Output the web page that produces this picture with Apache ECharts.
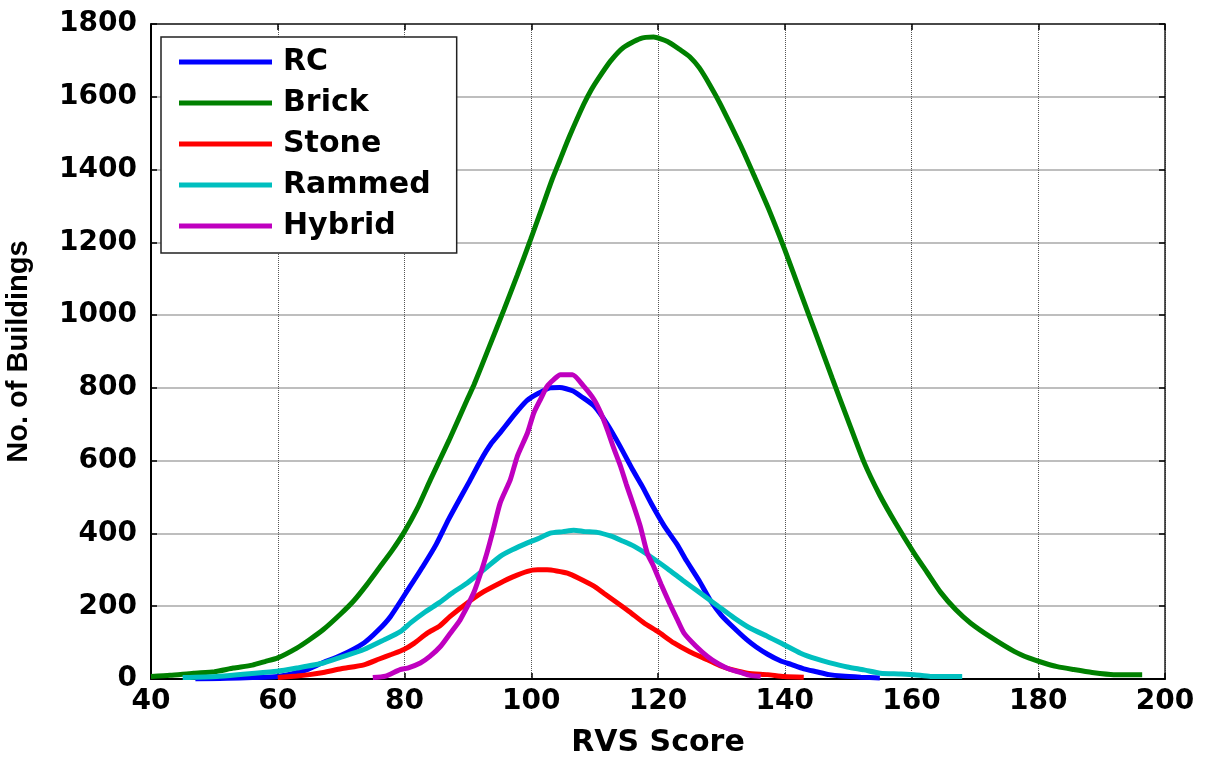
<!DOCTYPE html>
<html>
<head>
<meta charset="utf-8">
<script src="https://cdn.jsdelivr.net/npm/echarts@6/dist/echarts.min.js"></script>
<style>
  html, body { margin: 0; padding: 0; background: #fff; }
  #main { width: 1209px; height: 765px; }
</style>
</head>
<body>
<div id="main"></div>
<script>
// series names (legend order)
var seriesNames = ['RC', 'Brick', 'Stone', 'Rammed', 'Hybrid'];
var seriesColors = ['#0000ff', '#008000', '#ff0000', '#00bfbf', '#bf00bf'];

// [RVS score, no. of buildings]
var rcData = [[47,0],[52,2],[56,4],[60,7],[64,22],[67,44],[70,65],[73.6,99],[75.8,133],[77.8,172],[80.9,255],[83,312],
  [85,370],[87,440],[90.4,548],[92,600],[93.6,645],[95.1,677],[96.5,708],[98,740],[99.3,765],[101,784],[103,800],
  [104.5,801],[106.5,792],[108,775],[110,749],[112,700],[114,640],[116,575],[117.5,530],[119,480],[121,420],[123,370],
  [124.5,325],[126.5,270],[128.3,215],[130,175],[132,140],[134,108],[135.5,88],[137.3,68],[139.3,50],[141,40],
  [143,28],[145,20],[147,12],[149,8],[152,5],[155,3]];

var brickData = [[40,7],[43,10],[46.7,16],[50,20],[53,30],[56,38],[58,48],[60,58],[63,85],[65,108],[67.2,136],
  [70,180],[72,215],[74,258],[76,305],[78,352],[80,405],[82,468],[84.1,548],[87,655],[89.9,768],[91,810],[93.3,910],
  [95.7,1015],[97.8,1110],[99.9,1208],[101.6,1290],[103.3,1373],[104.5,1425],[106,1490],[108.3,1580],[109.5,1620],
  [110.5,1648],[112.5,1698],[114.5,1735],[117.2,1760],[119.3,1764],[121.5,1752],[123.6,1728],[125,1710],[126.5,1680],
  [128.2,1632],[129.9,1578],[133.1,1464],[135.2,1382],[137.5,1290],[140,1180],[142.5,1062],[145,944],[147.5,826],
  [150,710],[152.5,596],[155,505],[157.5,428],[160.4,346],[162.5,292],[164.6,238],[167,190],[169.3,154],[172.5,115],
  [176.2,76],[178.5,58],[180.9,44],[183,34],[185.6,26],[188.5,18],[191.9,12],[196.4,12]];

var stoneData = [[60,4],[63,8],[65,12],[67.2,18],[70,28],[73.6,39],[76,55],[78,68],[79.9,81],[81.5,98],[83.6,126],
  [85.5,145],[87.2,172],[89.9,209],[92.5,240],[95.1,264],[97,280],[99.4,296],[101,300],[102.5,300],[104,297],
  [105.7,291],[107.5,277],[109.9,255],[111.5,235],[113.6,209],[115.5,185],[117.8,154],[120,130],[122.5,99],
  [125,75],[127.8,53],[130,35],[132,24],[134.1,16],[137.3,12],[139.9,7],[143,5]];

var rammedData = [[45,4],[50.4,7],[55,14],[59.9,21],[63,30],[67.2,44],[70,60],[73.6,81],[76.5,105],[79.4,131],
  [81,155],[83.3,185],[85.5,210],[87.5,236],[89.9,264],[92.5,300],[95.1,337],[97,355],[99.4,374],[101,385],
  [103,401],[105,405],[106.7,409],[108.5,405],[110.4,403],[112.5,393],[114.3,380],[116.2,365],[118.5,340],
  [121.5,303],[124,270],[126.7,236],[129.5,200],[132,168],[134.5,140],[137.3,117],[139.8,95],[142.5,71],
  [145,55],[147,45],[149.9,33],[152.5,25],[155.1,16],[158,14],[160.4,12],[163,7],[168,7]];

var hybridData = [[75,4],[77,8],[79.3,26],[80.5,30],[82.5,44],[84,62],[85.7,90],[87.2,125],[88.8,163],[90.9,236],
  [92,290],[93,346],[94,410],[95.1,484],[96.7,548],[97.8,612],[99.4,676],[100.4,731],[101.5,770],[102.5,804],
  [103.5,822],[104.6,836],[106.5,836],[108.3,804],[109.9,768],[111,730],[112,685],[113,635],[114.1,584],
  [115,535],[116.2,474],[117.2,420],[118.3,346],[119.3,310],[120.5,260],[121.8,209],[123,165],[124.1,126],
  [126,90],[127.8,62],[129.5,42],[131.4,26],[133,18],[134.5,10],[136.2,7]];

var allData = [rcData, brickData, stoneData, rammedData, hybridData];

var chart = echarts.init(document.getElementById('main'), null, { renderer: 'canvas' });

var tickFont = { fontFamily: 'DejaVu Sans', fontWeight: 'bold', fontSize: 28, color: '#000' };
function plain(v) { return String(v); }

var options = {
  backgroundColor: '#fff',
  animation: false,
  grid: { left: 151, right: 44, top: 24, bottom: 86, containLabel: false, outerBoundsMode: 'none' },
  legend: {
    orient: 'vertical',
    left: 161,
    top: 37,
    padding: [10, 26, 12, 18],
    backgroundColor: '#fff',
    borderColor: '#222',
    borderWidth: 1.5,
    itemWidth: 93,
    itemHeight: 5,
    itemGap: 11,
    icon: 'rect',
    data: seriesNames,
    textStyle: {
      fontFamily: 'DejaVu Sans', fontWeight: 'bold', fontSize: 30, color: '#000',
      lineHeight: 30, padding: [0, 0, 0, 6]
    }
  },
  xAxis: [{
    type: 'value',
    min: 40, max: 200, interval: 20,
    name: 'RVS Score',
    nameLocation: 'middle',
    nameGap: 49,
    nameTextStyle: { fontFamily: 'DejaVu Sans', fontWeight: 'bold', fontSize: 30, color: '#000' },
    axisLine: { show: true, onZero: false, lineStyle: { color: '#000', width: 2 } },
    axisTick: { show: true, inside: true, length: 6, lineStyle: { color: '#000', width: 1.5 } },
    axisLabel: Object.assign({ margin: 9, formatter: plain }, tickFont),
    splitLine: { show: true, lineStyle: { color: '#555', type: 'dotted', width: 1 } }
  }, {
    type: 'value',
    position: 'top',
    min: 40, max: 200, interval: 20,
    axisLine: { show: true, onZero: false, lineStyle: { color: '#222', width: 1.5 } },
    axisTick: { show: true, inside: true, length: 6, lineStyle: { color: '#000', width: 1.5 } },
    axisLabel: { show: false },
    splitLine: { show: false }
  }],
  yAxis: [{
    type: 'value',
    min: 0, max: 1800, interval: 200,
    name: 'No. of Buildings',
    nameLocation: 'middle',
    nameGap: 118,
    nameTextStyle: { fontFamily: 'Liberation Sans', fontWeight: 'bold', fontSize: 29, color: '#000' },
    axisLine: { show: true, onZero: false, lineStyle: { color: '#000', width: 2 } },
    axisTick: { show: true, inside: true, length: 6, lineStyle: { color: '#000', width: 1.5 } },
    axisLabel: Object.assign({ margin: 14, formatter: plain }, tickFont),
    splitLine: { show: true, lineStyle: { color: '#a8a8a8', width: 1.5 } }
  }, {
    type: 'value',
    position: 'right',
    min: 0, max: 1800, interval: 200,
    axisLine: { show: true, onZero: false, lineStyle: { color: '#222', width: 1.5 } },
    axisTick: { show: true, inside: true, length: 6, lineStyle: { color: '#000', width: 1.5 } },
    axisLabel: { show: false },
    splitLine: { show: false }
  }],
  series: seriesNames.map(function (name, i) {
    return {
      name: name,
      type: 'line',
      data: allData[i],
      showSymbol: false,
      symbol: 'none',
      smooth: 0.2,
      color: seriesColors[i],
      lineStyle: { width: 5, color: seriesColors[i] },
      z: 2 + i
    };
  })
};

chart.setOption(options);
</script>
</body>
</html>
